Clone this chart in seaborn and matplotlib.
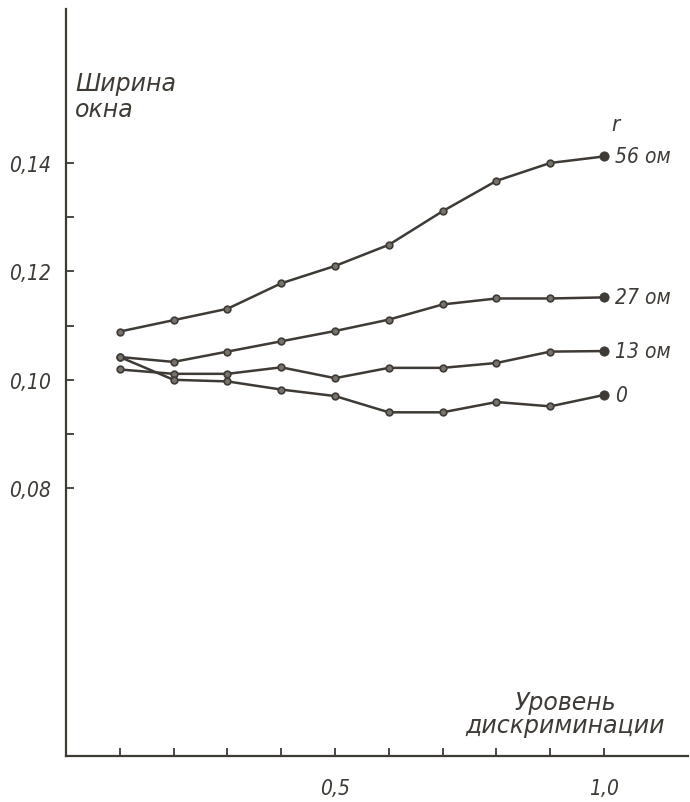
import numpy as np
import pandas as pd
import matplotlib
matplotlib.use("Agg")
import matplotlib.pyplot as plt
import seaborn as sns

# ---- data ----
levels = [0.1, 0.2, 0.3, 0.4, 0.5, 0.6, 0.7, 0.8, 0.9, 1.0]
r56 = [0.1089, 0.1110, 0.1131, 0.1178, 0.1210, 0.1249, 0.1311, 0.1367, 0.1400, 0.1412]
r27 = [0.1042, 0.1033, 0.1052, 0.1071, 0.1090, 0.1111, 0.1139, 0.1150, 0.1150, 0.1152]
r13 = [0.1019, 0.1011, 0.1011, 0.1023, 0.1003, 0.1022, 0.1022, 0.1031, 0.1052, 0.1053]
r0 = [0.1042, 0.1000, 0.0997, 0.0982, 0.0970, 0.0940, 0.0940, 0.0959, 0.0951, 0.0972]
series_names = ["56 ом", "27 ом", "13 ом", "0"]
series_values = [r56, r27, r13, r0]
ytick_vals = [0.08, 0.10, 0.12, 0.14]
ytick_labels = ["0,08", "0,10", "0,12", "0,14"]
yminor_vals = [0.09, 0.11, 0.13]
xtick_vals = [0.5, 1.0]
xtick_labels = ["0,5", "1,0"]
y_title = "Ширина\nокна"
x_title = "Уровень\nдискриминации"
param_label = "r"

ink = "#3e3a35"

sns.set_theme(style="white")
plt.rcParams["font.family"] = ["DejaVu Sans"]

fig = plt.figure(figsize=(6.9, 8.03), dpi=100)
fig.patch.set_facecolor("white")
ax = fig.add_axes([66 / 690, 46 / 803, 622 / 690, 747 / 803])

df = pd.concat(
    [pd.DataFrame({"level": levels, "width": vals, "series": name})
     for name, vals in zip(series_names, series_values)],
    ignore_index=True,
)

sns.lineplot(
    data=df, x="level", y="width", hue="series", palette=[ink] * 4,
    estimator=None, sort=False, legend=False, ax=ax,
    marker="o", markersize=4.8, markeredgecolor=ink, markeredgewidth=1.2,
    markerfacecolor="#77726c", linewidth=1.8,
)
last = df[df["level"] == levels[-1]]
sns.scatterplot(data=last, x="level", y="width", s=45, color=ink,
                edgecolor=ink, legend=False, ax=ax, zorder=5)

ax.set_xlim(0, 1.156)
ax.set_ylim(0.0306, 0.1684)

for s in ["top", "right"]:
    ax.spines[s].set_visible(False)
for s in ["left", "bottom"]:
    ax.spines[s].set_color(ink)
    ax.spines[s].set_linewidth(1.6)

fkw = dict(style="italic", stretch="condensed", color=ink)
tkw = dict(style="italic", color=ink)

ax.set_yticks(ytick_vals)
ax.set_yticklabels(ytick_labels, fontsize=15, **fkw)
ax.set_yticks(yminor_vals, minor=True)
ax.set_xticks(xtick_vals)
ax.set_xticklabels(xtick_labels, fontsize=15, **fkw)
ax.set_xticks([v for v in levels if v not in xtick_vals], minor=True)
ax.tick_params(axis="both", which="both", direction="in", length=6,
               width=1.3, color=ink)
ax.tick_params(axis="y", which="both", pad=11, left=True)
ax.tick_params(axis="x", which="both", pad=16, bottom=True)
ax.set_xlabel("")
ax.set_ylabel("")
ax.grid(False)

ax.text(0.017, 0.1570, y_title, ha="left", va="top", fontsize=17,
        linespacing=1.1, **tkw)
ax.text(0.9275, 0.0428, x_title, ha="center", va="top", fontsize=17,
        linespacing=0.95, multialignment="center", **tkw)
ax.text(1.014, 0.1472, param_label, ha="left", va="center", fontsize=16, **fkw)
for name, vals in zip(series_names, series_values):
    ax.text(1.021, vals[-1], name, ha="left", va="center", fontsize=15, **fkw)

fig.savefig("out.png", dpi=100, facecolor="white")
